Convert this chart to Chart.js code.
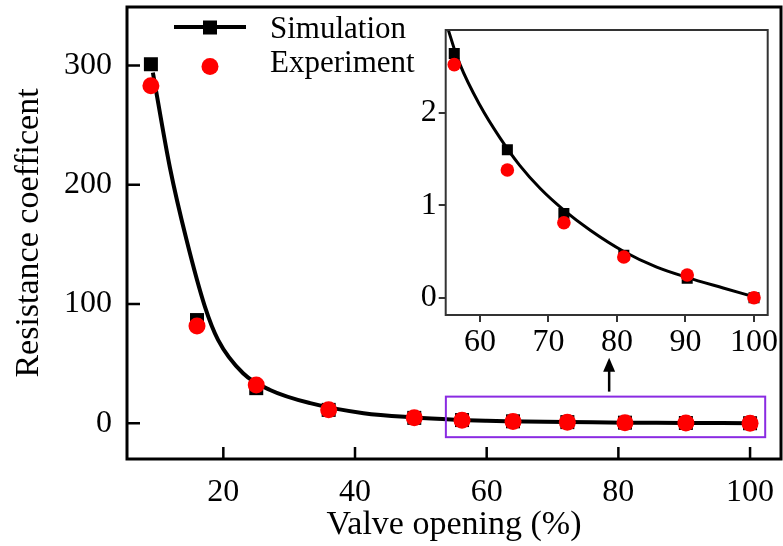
<!DOCTYPE html>
<html>
<head>
<meta charset="utf-8">
<script src="https://cdn.jsdelivr.net/npm/chart.js@4.4.1/dist/chart.umd.min.js"></script>
<style>
  html, body { margin: 0; padding: 0; background: #fff; }
  #wrap { position: relative; width: 783px; height: 546px; }
  #mainChart { position: absolute; left: 0; top: 0; }
  #insetChart { position: absolute; left: 400px; top: 0; }
</style>
</head>
<body>
<div id="wrap">
  <canvas id="mainChart" width="783" height="546"></canvas>
  <canvas id="insetChart" width="383" height="360"></canvas>
</div>
<script>
// valve opening (%)
const openings = [9, 16, 25, 36, 49, 56.25, 64, 72.25, 81, 90.25, 100];
// resistance coefficient
const simValues = [301, 86.5, 29.4, 11.2, 4.5, 2.64, 1.60, 0.91, 0.46, 0.21, 0];
const expValues = [283, 81.5, 32, 11.2, 4.5, 2.52, 1.38, 0.81, 0.44, 0.245, 0];

// fitted curve
const fitX = [9.3, 11.9, 14.4, 17.2, 19.2, 23.0, 27.1, 33.2, 41.3, 49, 55.4, 57.1, 60.0, 62.9, 65.8, 68.8, 72.2, 76.1, 81.0, 85.8, 90.2, 95.5, 100];
const fitY = [294, 214, 154, 97.8, 69.9, 41.9, 27.9, 16.8, 8.4, 4.8, 2.89, 2.52, 2.08, 1.73, 1.43, 1.18, 0.95, 0.73, 0.50, 0.33, 0.22, 0.105, 0.01];

const mainXTicks = [20, 40, 60, 80, 100];
const mainYTicks = [0, 100, 200, 300];
const insetXTicks = [60, 70, 80, 90, 100];
const insetYTicks = [0, 1, 2];

const seriesNames = ['Simulation', 'Experiment'];

const FONT = "'Liberation Serif', 'Times New Roman', serif";

function pts(xs, ys) {
    return xs.map((x, i) => ({ x: x, y: ys[i] }));
}

function makeDatasets(lw, sqR, circR) {
    return [
        {
            label: 'fit',
            data: pts(fitX, fitY),
            showLine: true,
            borderColor: '#000',
            borderWidth: lw,
            pointRadius: 0,
            cubicInterpolationMode: 'monotone',
            order: 3
        },
        {
            label: seriesNames[0],
            data: pts(openings, simValues),
            showLine: false,
            pointStyle: 'rect',
            pointRadius: sqR,
            pointBackgroundColor: '#000',
            pointBorderWidth: 0,
            order: 2
        },
        {
            label: seriesNames[1],
            data: pts(openings, expValues),
            showLine: false,
            pointStyle: 'circle',
            pointRadius: circR,
            pointBackgroundColor: '#ff0000',
            pointBorderWidth: 0,
            order: 1
        }
    ];
}

// kill the automatic label padding so the plot area sits where we want it
function noPadX(h) {
    return s => { s.height = h; s.paddingLeft = 0; s.paddingRight = 0; };
}
function noPadY(w) {
    return s => { s.width = w; s.paddingTop = 0; s.paddingBottom = 0; };
}

// box and arrow marking the zoomed region, in data units
const zoomBox = { xMin: 53.8, xMax: 102.3, yMin: -11.7, yMax: 22.3 };
const arrowAt = { x: 78.6, yFrom: 26.5, yTo: 54.8 };

const mainDecor = {
    id: 'mainDecor',
    afterDraw(chart) {
        const ctx = chart.ctx;
        const a = chart.chartArea;
        const xs = chart.scales.x, ys = chart.scales.y;
        ctx.save();
        // frame
        ctx.strokeStyle = '#000';
        ctx.lineWidth = 3;
        ctx.strokeRect(a.left, a.top, a.right - a.left, a.bottom - a.top);
        // inward ticks
        ctx.lineWidth = 2.5;
        ctx.beginPath();
        mainYTicks.forEach(v => {
            const y = ys.getPixelForValue(v);
            ctx.moveTo(a.left, y); ctx.lineTo(a.left + 13, y);
        });
        mainXTicks.forEach(v => {
            const x = xs.getPixelForValue(v);
            ctx.moveTo(x, a.bottom); ctx.lineTo(x, a.bottom - 12);
        });
        ctx.stroke();

        // purple zoom box
        const bx0 = xs.getPixelForValue(zoomBox.xMin), bx1 = xs.getPixelForValue(zoomBox.xMax);
        const by0 = ys.getPixelForValue(zoomBox.yMax), by1 = ys.getPixelForValue(zoomBox.yMin);
        ctx.strokeStyle = '#8a2be2';
        ctx.lineWidth = 2;
        ctx.strokeRect(bx0, by0, bx1 - bx0, by1 - by0);

        // arrow
        const ax = xs.getPixelForValue(arrowAt.x);
        const ay0 = ys.getPixelForValue(arrowAt.yFrom), ay1 = ys.getPixelForValue(arrowAt.yTo);
        ctx.strokeStyle = '#000';
        ctx.fillStyle = '#000';
        ctx.lineWidth = 2.5;
        ctx.beginPath();
        ctx.moveTo(ax, ay0); ctx.lineTo(ax, ay1 + 10);
        ctx.stroke();
        ctx.beginPath();
        ctx.moveTo(ax, ay1); ctx.lineTo(ax - 6, ay1 + 14); ctx.lineTo(ax + 6, ay1 + 14);
        ctx.closePath();
        ctx.fill();

        // legend
        ctx.lineWidth = 4;
        ctx.beginPath();
        ctx.moveTo(174, 27); ctx.lineTo(246, 27);
        ctx.stroke();
        ctx.fillRect(203, 20.5, 14, 14);
        ctx.fillStyle = '#ff0000';
        ctx.beginPath();
        ctx.arc(210, 66.5, 8.5, 0, Math.PI * 2);
        ctx.fill();
        ctx.fillStyle = '#000';
        ctx.font = '31px ' + FONT;
        ctx.textBaseline = 'alphabetic';
        ctx.textAlign = 'left';
        ctx.fillText(seriesNames[0], 270, 38);
        ctx.fillText(seriesNames[1], 270, 72);
        ctx.restore();
    }
};

const insetFrame = {
    id: 'insetFrame',
    afterDraw(chart) {
        const ctx = chart.ctx;
        const a = chart.chartArea;
        ctx.save();
        ctx.strokeStyle = '#333';
        ctx.lineWidth = 2;
        ctx.strokeRect(a.left, a.top, a.right - a.left, a.bottom - a.top);
        ctx.restore();
    }
};

new Chart(document.getElementById('mainChart'), {
    type: 'scatter',
    data: { datasets: makeDatasets(4, 9.9, 8.5) },
    options: {
        responsive: false,
        animation: false,
        layout: { autoPadding: false, padding: { top: 7, right: 2, left: 0, bottom: 0 } },
        plugins: { legend: { display: false }, tooltip: { enabled: false } },
        scales: {
            x: {
                type: 'linear',
                min: 5.37,
                max: 104.7,
                afterBuildTicks: s => { s.ticks = mainXTicks.map(v => ({ value: v })); },
                afterFit: noPadX(87),
                grid: { display: false, drawTicks: false },
                border: { display: false },
                ticks: { color: '#000', font: { family: FONT, size: 32 }, padding: 14, maxRotation: 0 },
                title: { display: true, text: 'Valve opening (%)', color: '#000',
                         font: { family: FONT, size: 34 }, padding: { top: 0, bottom: 1 } }
            },
            y: {
                type: 'linear',
                min: -30,
                max: 349,
                afterBuildTicks: s => { s.ticks = mainYTicks.map(v => ({ value: v })); },
                afterFit: noPadY(127),
                grid: { display: false, drawTicks: false },
                border: { display: false },
                ticks: { color: '#000', font: { family: FONT, size: 32 }, padding: 15 },
                title: { display: true, text: 'Resistance coefficent', color: '#000',
                         font: { family: FONT, size: 34 }, padding: { top: 9, bottom: 0 } }
            }
        }
    },
    plugins: [mainDecor]
});

new Chart(document.getElementById('insetChart'), {
    type: 'scatter',
    data: { datasets: makeDatasets(3, 7.8, 6.8) },
    options: {
        responsive: false,
        animation: false,
        layout: { autoPadding: false, padding: { top: 30, right: 15.3, left: 0, bottom: 0 } },
        plugins: { legend: { display: false }, tooltip: { enabled: false } },
        scales: {
            x: {
                type: 'linear',
                min: 55,
                max: 102,
                afterBuildTicks: s => { s.ticks = insetXTicks.map(v => ({ value: v })); },
                afterFit: noPadX(45),
                grid: { display: true, drawOnChartArea: false, drawTicks: true, tickLength: 7, color: '#333', lineWidth: 2 },
                border: { display: false },
                ticks: { color: '#000', font: { family: FONT, size: 32 }, padding: 1, maxRotation: 0 }
            },
            y: {
                type: 'linear',
                min: -0.187,
                max: 2.894,
                afterBuildTicks: s => { s.ticks = insetYTicks.map(v => ({ value: v })); },
                afterFit: noPadY(45.7),
                grid: { display: true, drawOnChartArea: false, drawTicks: true, tickLength: 7, color: '#333', lineWidth: 2 },
                border: { display: false },
                ticks: { color: '#000', font: { family: FONT, size: 32 }, padding: 2 }
            }
        }
    },
    plugins: [insetFrame]
});
</script>
</body>
</html>
